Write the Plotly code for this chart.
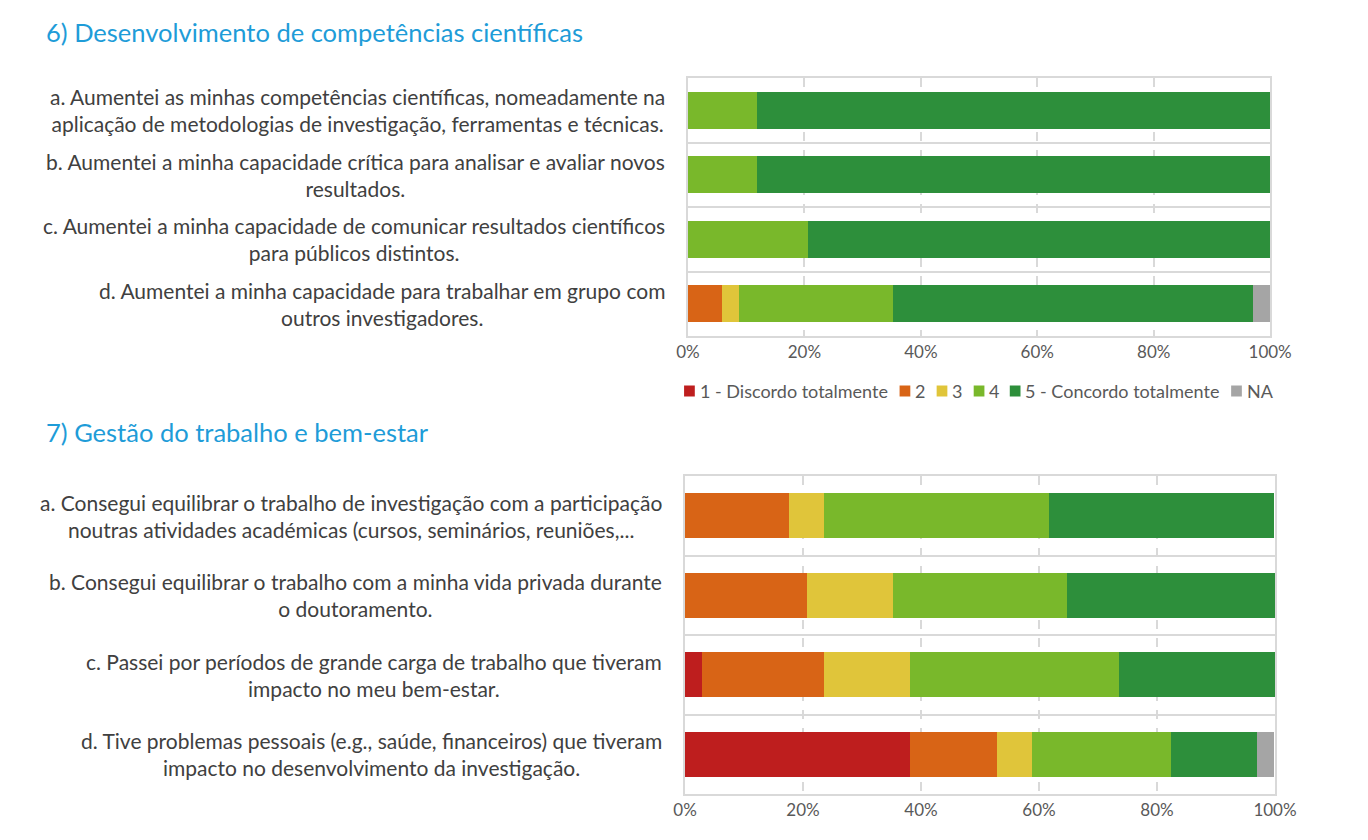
import plotly.graph_objects as go

# response categories (share of respondents, %)
levels = ["1 - Discordo totalmente", "2", "3", "4", "5 - Concordo totalmente", "NA"]
level_colors = ["#BE1E1E", "#D86416", "#E0C53A", "#79B82B", "#2D8F3B", "#A5A5A5"]

items_6 = [
    "a. Aumentei as minhas competências científicas, nomeadamente na<br>aplicação de metodologias de investigação, ferramentas e técnicas.",
    "b. Aumentei a minha capacidade crítica para analisar e avaliar novos<br>resultados.",
    "c. Aumentei a minha capacidade de comunicar resultados científicos<br>para públicos distintos.",
    "d. Aumentei a minha capacidade para trabalhar em grupo com<br>outros investigadores.",
]
values_6 = {
    "1 - Discordo totalmente": [0, 0, 0, 0],
    "2": [0, 0, 0, 5.9],
    "3": [0, 0, 0, 2.9],
    "4": [11.8, 11.8, 20.6, 26.5],
    "5 - Concordo totalmente": [88.2, 88.2, 79.4, 61.8],
    "NA": [0, 0, 0, 2.9],
}

items_7 = [
    "a. Consegui equilibrar o trabalho de investigação com a participação<br>noutras atividades académicas (cursos, seminários, reuniões,...",
    "b. Consegui equilibrar o trabalho com a minha vida privada durante<br>o doutoramento.",
    "c. Passei por períodos de grande carga de trabalho que tiveram<br>impacto no meu bem-estar.",
    "d. Tive problemas pessoais (e.g., saúde, financeiros) que tiveram<br>impacto no desenvolvimento da investigação.",
]
values_7 = {
    "1 - Discordo totalmente": [0, 0, 2.9, 38.2],
    "2": [17.6, 20.6, 20.6, 14.7],
    "3": [5.9, 14.7, 14.7, 5.9],
    "4": [38.2, 29.4, 35.3, 23.5],
    "5 - Concordo totalmente": [38.2, 35.3, 26.5, 14.7],
    "NA": [0, 0, 0, 2.9],
}

TITLE_BLUE = "#1E9CD8"
TEXT = "#404040"
TICK = "#595959"
GRID = "#D9D9D9"
FONT = "Lato"
W, H = 1368, 840
OFF = 8  # page body margin shifts the figure by 8px


def px(x):
    return (x - OFF) / W


def py(y):
    return 1 - (y - OFF) / H


fig = go.Figure()

for lvl, col in zip(levels, level_colors):
    fig.add_bar(
        y=[f"q6{k}" for k in range(len(items_6))], x=values_6[lvl],
        orientation="h", name=lvl, marker=dict(color=col, line=dict(width=0)),
        xaxis="x", yaxis="y", showlegend=False,
    )
    fig.add_bar(
        y=[f"q7{k}" for k in range(len(items_7))], x=values_7[lvl],
        orientation="h", name=lvl, marker=dict(color=col, line=dict(width=0)),
        xaxis="x2", yaxis="y2", showlegend=False,
    )

xax = dict(
    range=[0, 100], tickvals=[0, 20, 40, 60, 80, 100],
    ticktext=["0%", "20%", "40%", "60%", "80%", "100%"],
    showgrid=True, gridcolor=GRID, griddash="dash", gridwidth=1.5,
    showline=True, linecolor=GRID, linewidth=2, mirror=True,
    zeroline=False, ticks="", ticklen=0, tickfont=dict(size=17, color=TICK),
    fixedrange=True,
)
yax = dict(
    type="category", autorange="reversed", tickson="boundaries",
    showgrid=True, gridcolor=GRID, gridwidth=2,
    showline=True, linecolor=GRID, linewidth=2, mirror=True,
    showticklabels=False, ticks="", fixedrange=True,
)

fig.update_layout(
    width=W, height=H,
    margin=dict(l=0, r=0, t=0, b=0),
    paper_bgcolor="white", plot_bgcolor="white",
    font=dict(family=FONT, color=TEXT),
    barmode="stack", bargap=0.43, showlegend=False,
    xaxis=dict(xax, domain=[px(693), px(1290)], anchor="y"),
    yaxis=dict(yax, domain=[py(336), py(78)], anchor="x"),
    xaxis2=dict(xax, domain=[px(690), px(1295)], anchor="y2"),
    yaxis2=dict(yax, domain=[py(794), py(476)], anchor="x2"),
)

# legend drawn as a row of swatches under the first chart
legend_x = [689, 910, 948, 986, 1023, 1250]
legend_y = 391
for lvl, col, lx in zip(levels, level_colors, legend_x):
    fig.add_shape(type="rect", xref="paper", yref="paper",
                  x0=px(lx), x1=px(lx + 11), y0=py(legend_y + 5.5), y1=py(legend_y - 5.5),
                  fillcolor=col, line=dict(width=0))
    fig.add_annotation(text=lvl, xref="paper", yref="paper", x=px(lx + 14), y=py(legend_y),
                       xanchor="left", yanchor="middle", showarrow=False,
                       font=dict(size=18, color=TICK))

# section titles
fig.add_annotation(text="6) Desenvolvimento de competências científicas", xref="paper", yref="paper",
                   x=px(33), y=py(32), xanchor="left", yanchor="middle", showarrow=False,
                   font=dict(size=25.5, color=TITLE_BLUE))
fig.add_annotation(text="7) Gestão do trabalho e bem-estar", xref="paper", yref="paper",
                   x=px(33), y=py(432), xanchor="left", yanchor="middle", showarrow=False,
                   font=dict(size=25.5, color=TITLE_BLUE))

# item labels
for k, txt in enumerate(items_6):
    fig.add_annotation(text=txt, xref="paper", yref="y", x=px(672), y=f"q6{k}",
                       xanchor="right", yanchor="middle", align="center", showarrow=False,
                       font=dict(size=21, color=TEXT))
for k, txt in enumerate(items_7):
    fig.add_annotation(text=txt, xref="paper", yref="y2", x=px(668), y=f"q7{k}",
                       xanchor="right", yanchor="middle", align="center", showarrow=False,
                       font=dict(size=21, color=TEXT))

fig.write_html("out.html")
